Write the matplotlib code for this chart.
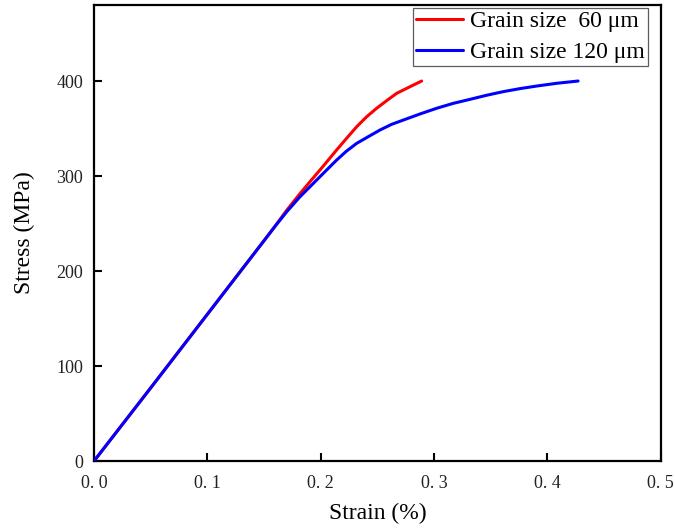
import matplotlib
matplotlib.use("Agg")
import matplotlib.pyplot as plt

# Stress-strain curves for two grain sizes
strain_60 = [0.0, 0.05, 0.10, 0.15, 0.158, 0.170, 0.1817, 0.1905, 0.1993, 0.214,
             0.2228, 0.2317, 0.2405, 0.2493, 0.2581, 0.2669, 0.2787, 0.289]
stress_60 = [0.0, 77.0, 154.5, 232.0, 244.5, 264.0, 281.5, 294.0, 306.3, 327.4,
             339.7, 351.9, 362.4, 371.3, 379.3, 387.0, 394.0, 400.0]

strain_120 = [0.0, 0.05, 0.10, 0.15, 0.158, 0.170, 0.1817, 0.1905, 0.1993, 0.214,
              0.2228, 0.2317, 0.2419, 0.2522, 0.2625, 0.2728, 0.2875, 0.3022,
              0.3169, 0.3316, 0.3463, 0.3609, 0.3757, 0.3904, 0.408, 0.427]
stress_120 = [0.0, 77.0, 154.5, 232.0, 244.5, 262.4, 278.2, 288.7, 299.3, 316.8,
              326.3, 334.4, 341.4, 348.4, 354.4, 358.9, 365.3, 371.3,
              376.5, 380.7, 385.0, 388.8, 392.0, 394.7, 397.6, 400.0]

xticks = [0.0, 0.1, 0.2, 0.3, 0.4, 0.5]
xtick_labels = ["0. 0", "0. 1", "0. 2", "0. 3", "0. 4", "0. 5"]
yticks = [0, 100, 200, 300, 400]
ytick_labels = ["0", "100", "200", "300", "400"]

serif = ["Liberation Serif", "DejaVu Serif"]

fig = plt.figure(figsize=(6.75, 5.29), dpi=100)
ax = fig.add_axes([0.1393, 0.1285, 0.979 - 0.1393, 0.9905 - 0.1285])

ax.plot(strain_60, stress_60, color="#ff0000", lw=2.2, label="Grain size  60 \u03bcm",
        solid_capstyle="round", solid_joinstyle="round", zorder=2)
ax.plot(strain_120, stress_120, color="#0000ff", lw=2.2, label="Grain size 120 \u03bcm",
        solid_capstyle="round", solid_joinstyle="round", zorder=3)

ax.set_xlim(0, 0.5)
ax.set_ylim(0, 480)
ax.set_xticks(xticks)
ax.set_xticklabels(xtick_labels, family=serif, fontsize=13, color="#222222")
ax.set_yticks(yticks)
ax.set_yticklabels(ytick_labels, family=serif, fontsize=13, color="#222222")
ax.tick_params(direction="in", length=6, width=1.5)
ax.tick_params(axis="x", pad=10)
ax.tick_params(axis="y", pad=8)

for sp in ax.spines.values():
    sp.set_linewidth(1.6)

ax.set_xlabel("Strain (%)", family=serif, fontsize=17, labelpad=8)
ax.set_ylabel("Stress (MPa)", family=serif, fontsize=17, labelpad=15)

leg = ax.legend(loc="upper right", bbox_to_anchor=(648 / 675, 1 - 8 / 529),
                bbox_transform=fig.transFigure,
                prop={"family": serif, "size": 17},
                frameon=True, fancybox=False, borderaxespad=0.0,
                handlelength=2.0, handletextpad=0.3, borderpad=0.12,
                labelspacing=0.4)
leg.get_frame().set_edgecolor("#333333")
leg.get_frame().set_linewidth(0.9)

fig.savefig("out.png", dpi=100)
